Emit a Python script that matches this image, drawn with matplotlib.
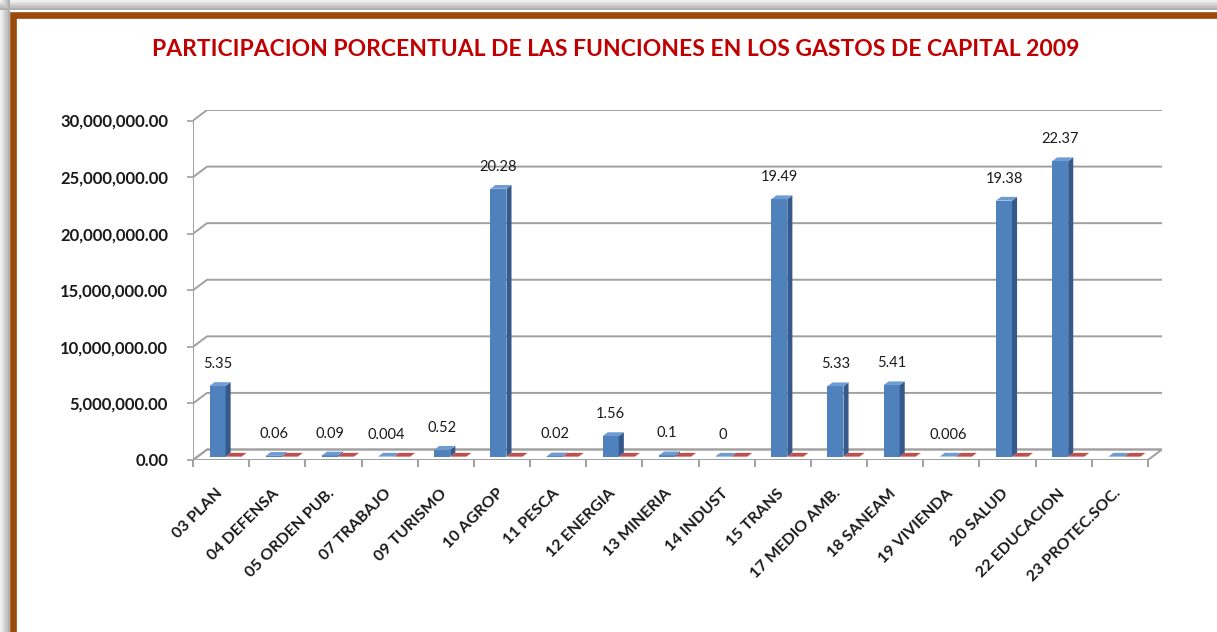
import matplotlib.pyplot as plt
from matplotlib.patches import Polygon, Rectangle

plt.rcParams['font.family'] = ['Lato', 'DejaVu Sans']

# Data
categories = ['03 PLAN', '04 DEFENSA', '05 ORDEN PUB.', '07 TRABAJO', '09 TURISMO',
              '10 AGROP', '11 PESCA', '12 ENERGIA', '13 MINERIA', '14 INDUST',
              '15 TRANS', '17 MEDIO AMB.', '18 SANEAM', '19 VIVIENDA', '20 SALUD',
              '22 EDUCACION', '23 PROTEC.SOC.']
gasto = [6245000, 70000, 105000, 4700, 607000,
         23670000, 23000, 1820000, 117000, 0,
         22750000, 6220000, 6315000, 7000, 22620000,
         26110000, 0]
porcentaje = [5.35, 0.06, 0.09, 0.004, 0.52,
              20.28, 0.02, 1.56, 0.1, 0,
              19.49, 5.33, 5.41, 0.006, 19.38,
              22.37, 0]
etiquetas = ['5.35', '0.06', '0.09', '0.004', '0.52',
             '20.28', '0.02', '1.56', '0.1', '0',
             '19.49', '5.33', '5.41', '0.006', '19.38',
             '22.37', None]
yticks = [0, 5000000, 10000000, 15000000, 20000000, 25000000, 30000000]

# oblique 3D look
DX = 0.25          # depth shift in category units
DY = 0.928e6       # depth shift in value units
F0, F1 = 0.32, 0.68
GRID = '#A0A0A0'

fig = plt.figure(figsize=(12.17, 6.32), dpi=100)
ax = fig.add_axes([193 / 1217, (632 - 460) / 632, 969 / 1217, 350 / 632])
n = len(categories)
ax.set_xlim(0, n + DX)
ax.set_ylim(0, yticks[-1] + DY)
for s in ax.spines.values():
    s.set_visible(False)

# walls, floor and grid
ax.add_patch(Polygon([(0, 0), (n, 0), (n + DX, DY), (DX, DY)], closed=True,
                     facecolor='white', edgecolor=GRID, lw=1.4, zorder=1))
for v in yticks:
    ax.plot([0, DX, n + DX], [v, v + DY, v + DY], color=GRID, lw=1.4, zorder=1)
ax.plot([0, 0], [0, yticks[-1]], color=GRID, lw=1.4, zorder=1)


def bar3d(x0, x1, v, front, side, top):
    a0, a1 = F0 * DX, F1 * DX
    b0, b1 = F0 * DY, F1 * DY
    ax.add_patch(Rectangle((x0 + a0, b0), x1 - x0, v, facecolor=front,
                           edgecolor='none', zorder=3))
    ax.add_patch(Polygon([(x1 + a0, b0), (x1 + a1, b1), (x1 + a1, v + b1), (x1 + a0, v + b0)],
                         closed=True, facecolor=side, edgecolor='none', zorder=3))
    ax.add_patch(Polygon([(x0 + a0, v + b0), (x1 + a0, v + b0), (x1 + a1, v + b1), (x0 + a1, v + b1)],
                         closed=True, facecolor=top, edgecolor='none', zorder=3))


w = 0.286
for i in range(n):
    bx0 = i + 0.214
    bar3d(bx0, bx0 + w, gasto[i], '#4F81BD', '#34598A', '#6F9BD3')
    bar3d(bx0 + w, bx0 + 2 * w, porcentaje[i], '#C0504D', '#8E3331', '#C0504D')
    if etiquetas[i] is not None:
        ax.annotate(etiquetas[i], (bx0 + w / 2 + F0 * DX, gasto[i] + F1 * DY),
                    xytext=(0, 8), textcoords='offset points', ha='center', va='bottom',
                    fontsize=10.5, color='#1A1A1A', zorder=5)

# axes ticks
ax.set_yticks(yticks)
ax.set_yticklabels(['{:,.2f}'.format(v) for v in yticks], fontsize=12,
                   fontweight='bold', color='#1A1A1A')
ax.tick_params(axis='y', length=4, width=1.2, color=GRID, pad=14)
ax.set_xticks(range(n + 1))
ax.set_xticklabels([])
ax.set_xticks([i + 0.57 for i in range(n)], minor=True)
ax.set_xticklabels(categories, minor=True, rotation=45, ha='right', va='top',
                   fontsize=11.5, fontweight='bold', color='#1A1A1A')
ax.tick_params(axis='x', which='major', length=5, width=1.4, color=GRID)
ax.tick_params(axis='x', which='minor', length=0, pad=19)

fig.text(616 / 1217, 1 - 50 / 632,
         'PARTICIPACION PORCENTUAL DE LAS FUNCIONES EN LOS GASTOS DE CAPITAL 2009',
         ha='center', va='center', fontsize=16.5, fontweight='bold', color='#C00000')

# frame with shadow
H = 632
for k, g in enumerate(['#EFEFEF', '#E0E0E0', '#D0D0D0', '#C0C0C0', '#B0B0B0']):
    fig.patches.append(Rectangle(((k * 2) / 1217, -0.1), 2 / 1217, 1.2, transform=fig.transFigure,
                                 facecolor=g, edgecolor='none'))
    fig.patches.append(Rectangle((0, 1 - (2 + k * 2) / H), 1.1, 2 / H, transform=fig.transFigure,
                                 facecolor=g, edgecolor='none'))
fig.patches.append(Rectangle((12.5 / 1217, -0.1), 1.2, 1.1 - 14.5 / H, transform=fig.transFigure,
                             facecolor='none', edgecolor='#9C4A0C', lw=4.8))

fig.savefig('out.png', dpi=100)
